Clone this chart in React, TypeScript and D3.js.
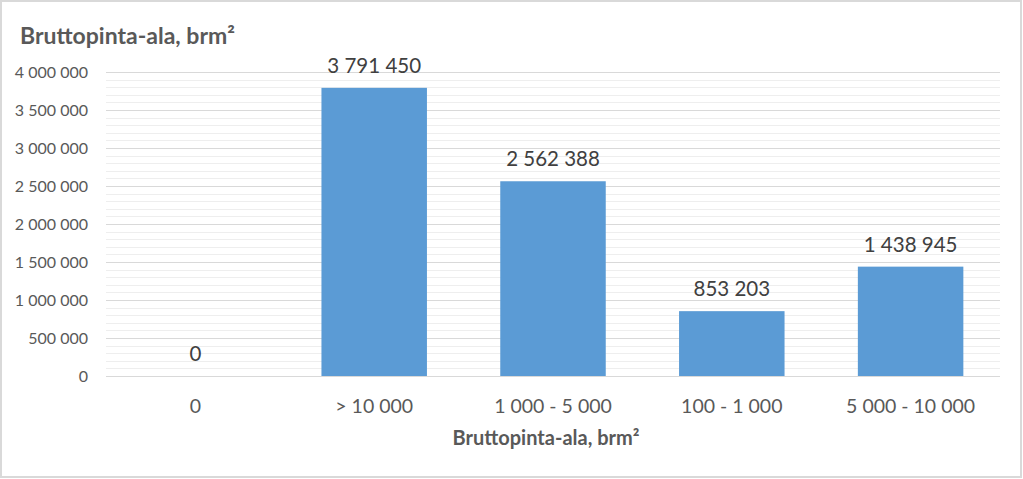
import React from "react";
import * as d3 from "d3";

const categories = ["0", "> 10 000", "1 000 - 5 000", "100 - 1 000", "5 000 - 10 000"];
const values = [0, 3791450, 2562388, 853203, 1438945];
const yTicks = [0, 500000, 1000000, 1500000, 2000000, 2500000, 3000000, 3500000, 4000000];
const title = "Bruttopinta-ala, brm²";
const xTitle = "Bruttopinta-ala, brm²";

const W = 1023, H = 479;
const fmt = (v: number) => d3.format(",")(v).replace(/,/g, " ");
const FONT = "Lato, 'Open Sans', sans-serif";

export default function App() {
  const x = d3.scaleBand().domain(categories).range([106, 1000]).paddingInner(0.41).paddingOuter(0.205);
  const y = d3.scaleLinear().domain([0, 4000000]).range([376, 72]);
  const minor = d3.range(0, 4000001, 100000).filter((v) => v % 500000 !== 0);
  return (
    <svg width={W} height={H} style={{ position: "absolute", left: 0, top: 0 }} fontFamily={FONT}>
      <rect x={0} y={0} width={W} height={H} fill="#fff" />
      <rect x={1} y={1} width={W - 3} height={H - 3} fill="none" stroke="#d9d9d9" strokeWidth={2} />
      <text x={20} y={44} fontSize={23} fontWeight="bold" fill="#595959">{title}</text>
      {minor.map((v) => (
        <line key={"m" + v} x1={106} x2={1000} y1={Math.round(y(v)) + 0.5} y2={Math.round(y(v)) + 0.5} stroke="#eeeeee" strokeWidth={1} />
      ))}
      {yTicks.map((v) => (
        <g key={v}>
          <line x1={106} x2={1000} y1={Math.round(y(v)) + 0.5} y2={Math.round(y(v)) + 0.5} stroke="#d9d9d9" strokeWidth={1} />
          <text x={88} y={y(v)} dy="0.35em" textAnchor="end" fontSize={16} fill="#595959">{fmt(v)}</text>
        </g>
      ))}
      {categories.map((c, i) => (
        <g key={c}>
          {values[i] > 0 && (
            <rect x={x(c)!} y={y(values[i])} width={x.bandwidth()} height={y(0) - y(values[i])} fill="#5b9bd5" />
          )}
          <text x={x(c)! + x.bandwidth() / 2} y={y(values[i]) - 15} textAnchor="middle" fontSize={20.5} fill="#404040">{fmt(values[i])}</text>
          <text x={x(c)! + x.bandwidth() / 2} y={413} textAnchor="middle" fontSize={19.5} fill="#595959">{c}</text>
        </g>
      ))}
      <text x={546} y={445} textAnchor="middle" fontSize={20} fontWeight="bold" fill="#595959">{xTitle}</text>
    </svg>
  );
}
